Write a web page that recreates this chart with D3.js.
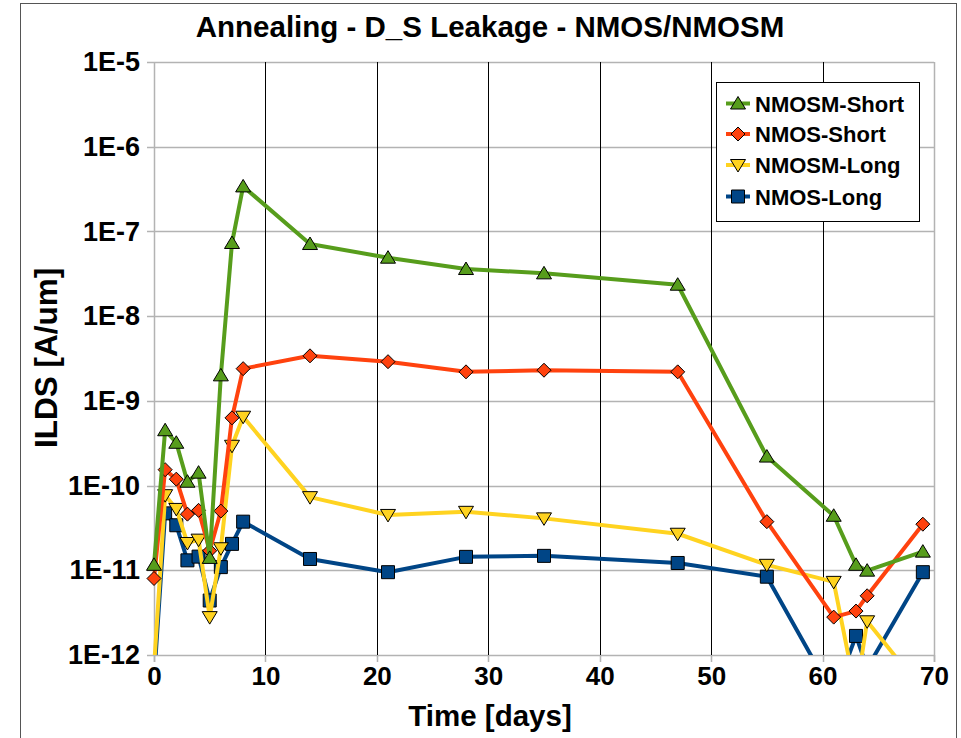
<!DOCTYPE html>
<html>
<head>
<meta charset="utf-8">
<script src="https://cdn.jsdelivr.net/npm/d3@7"></script>
<style>
  body { margin: 0; background: #fff; }
  svg { display: block; }
  text { font-family: "Liberation Sans", Arial, sans-serif; font-weight: bold; fill: #000; }
</style>
</head>
<body>
<svg id="chart" width="961" height="738"></svg>
<script>
// ---- data ----
const days = [0, 1, 2, 3, 4, 5, 6, 7, 8, 14, 21, 28, 35, 47, 55, 61, 63, 64, 69];
const nmosmShort = [1.16e-11, 4.5e-10, 3.2e-10, 1.11e-10, 1.42e-10, 1.4e-11, 2.0e-9, 7.3e-8, 3.4e-7, 7.1e-8, 4.9e-8, 3.6e-8, 3.2e-8, 2.35e-8, 2.2e-10, 4.4e-11, 1.16e-11, 9.9e-12, 1.66e-11];
const nmosShort  = [8.0e-12, 1.54e-10, 1.19e-10, 4.6e-11, 5.1e-11, 1.7e-11, 5.0e-11, 6.3e-10, 2.4e-9, 3.4e-9, 2.9e-9, 2.2e-9, 2.3e-9, 2.2e-9, 3.75e-11, 2.8e-12, 3.3e-12, 5.0e-12, 3.5e-11];
const nmosmLong  = [7e-13, 7.7e-11, 5.3e-11, 2.1e-11, 2.3e-11, 2.8e-12, 1.82e-11, 2.95e-10, 6.5e-10, 7.3e-11, 4.5e-11, 4.9e-11, 4.1e-11, 2.7e-11, 1.16e-11, 7.3e-12, 3.5e-13, 2.5e-12, 3.8e-13];
const nmosLong   = [5e-13, 4.7e-11, 3.4e-11, 1.31e-11, 1.45e-11, 4.4e-12, 1.09e-11, 2.05e-11, 3.75e-11, 1.36e-11, 9.5e-12, 1.44e-11, 1.48e-11, 1.22e-11, 8.4e-12, 3.3e-13, 1.68e-12, 7e-13, 9.5e-12];
const xTicks = [0, 10, 20, 30, 40, 50, 60, 70];
const yTicks = [1e-12, 1e-11, 1e-10, 1e-9, 1e-8, 1e-7, 1e-6, 1e-5];
const yTickLabels = ["1E-12", "1E-11", "1E-10", "1E-9", "1E-8", "1E-7", "1E-6", "1E-5"];
const title = "Annealing - D_S Leakage - NMOS/NMOSM";
const xTitle = "Time [days]";
const yTitle = "ILDS [A/um]";

const series = [
  { name: "NMOSM-Short", values: nmosmShort, color: "#579d1c", symbol: "up" },
  { name: "NMOS-Short",  values: nmosShort,  color: "#ff420e", symbol: "diamond" },
  { name: "NMOSM-Long",  values: nmosmLong,  color: "#ffd320", symbol: "down" },
  { name: "NMOS-Long",   values: nmosLong,   color: "#004586", symbol: "square" }
];

// ---- layout ----
const svg = d3.select("#chart");
const L = 154, R = 934, T = 62, B = 655;
const x = d3.scaleLinear().domain([0, 70]).range([L, R]);
const y = d3.scaleLog().domain([1e-12, 1e-5]).range([B, T]);

// outer frame
svg.append("rect").attr("x", 20.5).attr("y", 3.5).attr("width", 936).attr("height", 745)
  .attr("fill", "none").attr("stroke", "#555").attr("stroke-width", 1);

// horizontal grid
svg.append("g").selectAll("line").data(yTicks).join("line")
  .attr("x1", L - 7).attr("x2", R)
  .attr("y1", d => Math.round(y(d)) + 0.5).attr("y2", d => Math.round(y(d)) + 0.5)
  .attr("stroke", "#b3b3b3").attr("stroke-width", 1.5);

// vertical grid (black) and ticks
svg.append("g").selectAll("line").data(xTicks.slice(1, -1)).join("line")
  .attr("x1", d => Math.round(x(d)) + 0.5).attr("x2", d => Math.round(x(d)) + 0.5)
  .attr("y1", T).attr("y2", B)
  .attr("stroke", "#000").attr("stroke-width", 1);
svg.append("g").selectAll("line").data(xTicks).join("line")
  .attr("x1", d => Math.round(x(d)) + 0.5).attr("x2", d => Math.round(x(d)) + 0.5)
  .attr("y1", B).attr("y2", B + 7)
  .attr("stroke", "#b3b3b3").attr("stroke-width", 1.5);

// plot frame
svg.append("line").attr("x1", L + 0.5).attr("x2", L + 0.5).attr("y1", T).attr("y2", B + 7)
  .attr("stroke", "#b3b3b3").attr("stroke-width", 1.5);
svg.append("line").attr("x1", R + 0.5).attr("x2", R + 0.5).attr("y1", T).attr("y2", B + 7)
  .attr("stroke", "#b3b3b3").attr("stroke-width", 1.5);

// axes labels via d3 axes (text only)
const yAxis = d3.axisLeft(y).tickValues(yTicks).tickFormat((d, i) => yTickLabels[i]).tickSize(0).tickPadding(14);
const gy = svg.append("g").attr("transform", `translate(${L},0)`).call(yAxis);
gy.select(".domain").remove();
gy.selectAll("text").attr("font-size", 27).attr("font-family", "Liberation Sans, Arial, sans-serif").attr("font-weight", "bold").attr("fill", "#000");

const xAxis = d3.axisBottom(x).tickValues(xTicks).tickFormat(d3.format("d")).tickSize(0).tickPadding(12);
const gx = svg.append("g").attr("transform", `translate(0,${B})`).call(xAxis);
gx.select(".domain").remove();
gx.selectAll("text").attr("font-size", 26).attr("font-family", "Liberation Sans, Arial, sans-serif").attr("font-weight", "bold").attr("fill", "#000");

// titles
svg.append("text").attr("x", 490).attr("y", 37).attr("text-anchor", "middle").attr("font-size", 29.5).text(title);
svg.append("text").attr("x", 490).attr("y", 726).attr("text-anchor", "middle").attr("font-size", 29.5).text(xTitle);
svg.append("text").attr("transform", "translate(57,358) rotate(-90)").attr("text-anchor", "middle").attr("font-size", 31.5).text(yTitle);

// clip
svg.append("defs").append("clipPath").attr("id", "clip")
  .append("rect").attr("x", L - 12).attr("y", T - 12).attr("width", R - L + 24).attr("height", B - T + 12);

function symbolPath(sym) {
  if (sym === "up") return "M0,-7L7.5,5.5L-7.5,5.5Z";
  if (sym === "down") return "M0,7L7.5,-5.5L-7.5,-5.5Z";
  if (sym === "diamond") return "M0,-7L7,0L0,7L-7,0Z";
  return "M-6.5,-6.5H6.5V6.5H-6.5Z";
}

const plot = svg.append("g").attr("clip-path", "url(#clip)");
const drawOrder = [series[3], series[2], series[1], series[0]];
const line = d3.line().x(d => x(d[0])).y(d => y(d[1]));
drawOrder.forEach(s => {
  const pts = days.map((d, i) => [d, s.values[i]]);
  const g = plot.append("g");
  g.append("path").datum(pts).attr("d", line)
    .attr("fill", "none").attr("stroke", s.color).attr("stroke-width", 4).attr("stroke-linejoin", "round");
  g.selectAll("path.m").data(pts).join("path").attr("class", "m")
    .attr("transform", d => `translate(${x(d[0])},${y(d[1])})`)
    .attr("d", symbolPath(s.symbol))
    .attr("fill", s.color).attr("stroke", "#000").attr("stroke-width", 1);
});

// legend
const lg = svg.append("g");
lg.append("rect").attr("x", 716.5).attr("y", 82.5).attr("width", 203).attr("height", 139)
  .attr("fill", "#fff").attr("stroke", "#000").attr("stroke-width", 1);
const rowsY = [103.5, 134, 165, 196.5];
series.forEach((s, i) => {
  const ry = rowsY[i];
  lg.append("line").attr("x1", 726).attr("x2", 750).attr("y1", ry).attr("y2", ry)
    .attr("stroke", s.color).attr("stroke-width", 4);
  lg.append("path").attr("transform", `translate(738,${ry})`).attr("d", symbolPath(s.symbol))
    .attr("fill", s.color).attr("stroke", "#000").attr("stroke-width", 1);
  lg.append("text").attr("x", 755).attr("y", ry + 8).attr("font-size", 22).text(s.name);
});
</script>
</body>
</html>
